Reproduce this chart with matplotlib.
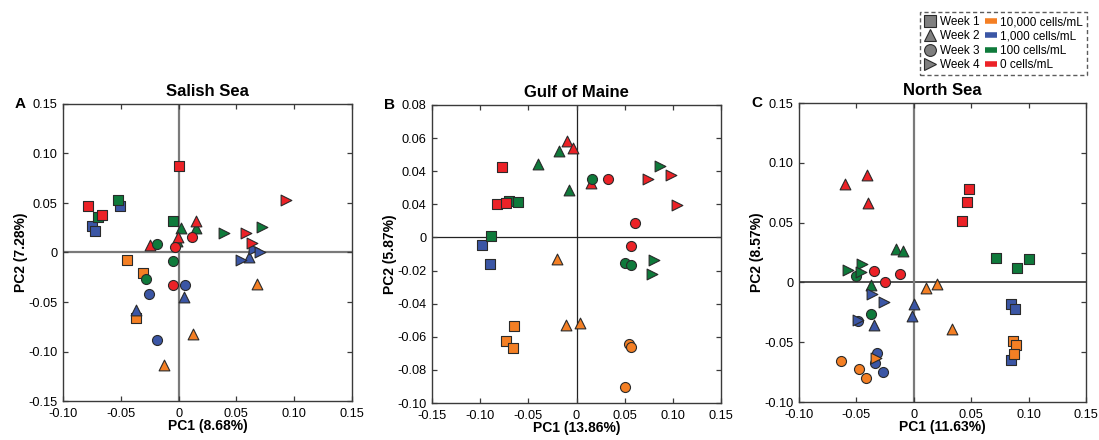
import matplotlib
matplotlib.use("Agg")
import matplotlib.pyplot as plt
from matplotlib.lines import Line2D

plt.rcParams['font.family'] = ['Liberation Sans', 'DejaVu Sans']

# ---- PCA scores: (PC1, PC2), sampling week and spike concentration ----
salish_x = [-0.045, -0.031, -0.0367, -0.0506, -0.075, -0.072, -0.052, -0.070, -0.0046,
            0.0, -0.0787, -0.0666,
            0.068, 0.0124, -0.0127, 0.061, 0.005, -0.037, 0.0017, 0.0148, -0.001,
            0.0153, -0.0006, -0.025,
            0.0052, -0.026, -0.0188, -0.019, -0.0052, -0.0286, 0.012, -0.0035, -0.0046,
            0.0538, 0.0655, 0.0705, 0.0718, 0.0394, 0.0929, 0.0579, 0.0631]
salish_y = [-0.0073, -0.021, -0.066, 0.047, 0.027, 0.022, 0.053, 0.036, 0.032,
            0.087, 0.047, 0.038,
            -0.032, -0.082, -0.114, -0.005, -0.045, -0.058, 0.025, 0.025, 0.012,
            0.032, 0.016, 0.0077,
            -0.0333, -0.0417, -0.0887, 0.0083, -0.009, -0.0267, 0.016, 0.0057, -0.0333,
            -0.008, 0.0033, 0.0003, 0.0257, 0.020, 0.053, 0.020, 0.010]
salish_week = [1] * 12 + [2] * 12 + [3] * 9 + [4] * 8
salish_conc = (['10,000'] * 3 + ['1,000'] * 3 + ['100'] * 3 + ['0'] * 3
               + ['10,000'] * 3 + ['1,000'] * 3 + ['100'] * 3 + ['0'] * 3
               + ['1,000'] * 3 + ['100'] * 3 + ['0'] * 3
               + ['1,000'] * 3 + ['100'] * 2 + ['0'] * 3)

maine_x = [-0.0653, -0.0729, -0.066, -0.0986, -0.0903, -0.070, -0.0608, -0.0892,
           -0.0771, -0.0823, -0.0733,
           -0.0201, -0.0104, 0.0038, -0.018, -0.0396, -0.0076, -0.0097, -0.0035, 0.0146,
           0.0549, 0.0566, 0.0507, 0.0163, 0.0507, 0.0563, 0.033, 0.0604, 0.0563,
           0.0868, 0.0809, 0.0781, 0.074, 0.0979, 0.1042]
maine_y = [-0.0533, -0.0626, -0.0667, -0.0043, -0.0158, 0.0219, 0.0213, 0.001,
           0.0424, 0.0199, 0.0211,
           -0.013, -0.0531, -0.0517, 0.0523, 0.0446, 0.0286, 0.0584, 0.0543, 0.033,
           -0.0642, -0.0659, -0.0906, 0.0355, -0.0152, -0.0168, 0.0351, 0.0085, -0.0051,
           0.0432, -0.0134, -0.0223, 0.0351, 0.0379, 0.0197]
maine_week = [1] * 11 + [2] * 9 + [3] * 9 + [4] * 6
maine_conc = (['10,000'] * 3 + ['1,000'] * 2 + ['100'] * 3 + ['0'] * 3
              + ['10,000'] * 3 + ['100'] * 3 + ['0'] * 3
              + ['10,000'] * 3 + ['100'] * 3 + ['0'] * 3
              + ['100'] * 3 + ['0'] * 3)

north_x = [0.0843, 0.0884, 0.0846, 0.0863, 0.089, 0.0875, 0.0718, 0.0898, 0.1006,
           0.048, 0.0462, 0.0419,
           0.0108, 0.0203, 0.0334, 0.0006, -0.0017, -0.0346, -0.0154, -0.0096, -0.0372,
           -0.0596, -0.041, -0.0395,
           -0.0637, -0.048, -0.0413, -0.0488, -0.0317, -0.0337, -0.0265, -0.050, -0.0375,
           -0.0343, -0.0247, -0.0119,
           -0.0331, -0.0366, -0.0256, -0.0488, -0.057, -0.0448, -0.046]
north_y = [-0.0177, -0.0223, -0.0648, -0.0493, -0.0527, -0.0597, 0.020, 0.0121, 0.0192,
           0.0777, 0.067, 0.0515,
           -0.0051, -0.0017, -0.0386, -0.0183, -0.0279, -0.0358, 0.0279, 0.0262, -0.0025,
           0.082, 0.090, 0.0668,
           -0.0654, -0.0724, -0.0797, -0.0321, -0.0589, -0.0676, -0.0746, 0.0056, -0.0268,
           0.0099, 0.0, 0.0068,
           -0.063, -0.0099, -0.0166, -0.0315, 0.0101, 0.0155, 0.0087]
north_week = [1] * 12 + [2] * 12 + [3] * 12 + [4] * 7
north_conc = (['1,000'] * 3 + ['10,000'] * 3 + ['100'] * 3 + ['0'] * 3
              + ['10,000'] * 3 + ['1,000'] * 3 + ['100'] * 3 + ['0'] * 3
              + ['10,000'] * 3 + ['1,000'] * 4 + ['100'] * 2 + ['0'] * 3
              + ['10,000'] * 1 + ['1,000'] * 3 + ['100'] * 3)

week_labels = ['Week 1', 'Week 2', 'Week 3', 'Week 4']
conc_levels = ['10,000', '1,000', '100', '0']
conc_labels = ['10,000 cells/mL', '1,000 cells/mL', '100 cells/mL', '0 cells/mL']

# ---- styling ----
week_markers = {1: 's', 2: '^', 3: 'o', 4: '>'}
conc_colors = {'10,000': '#f47f24', '1,000': '#3b56a5', '100': '#0f7a3b', '0': '#ec2227'}
edge = '#2a2a2a'
spine_col = '#3a3a3a'

W, H = 1099, 440
fig = plt.figure(figsize=(W / 100, H / 100), dpi=100)


def px_rect(l, t, r, b):
    return [l / W, 1 - b / H, (r - l) / W, (b - t) / H]


panels = [
    dict(title='Salish Sea', letter='A', rect=px_rect(63, 104, 352, 401),
         x=salish_x, y=salish_y, week=salish_week, conc=salish_conc,
         xlim=(-0.10, 0.15), ylim=(-0.15, 0.15),
         xticks=[-0.10, -0.05, 0, 0.05, 0.10, 0.15],
         xticklabels=['-0.10', '-0.05', '0', '0.05', '0.10', '0.15'],
         yticks=[-0.15, -0.10, -0.05, 0, 0.05, 0.10, 0.15],
         yticklabels=['-0.15', '-0.10', '-0.05', '0', '0.05', '0.10', '0.15'],
         xlabel='PC1 (8.68%)', ylabel='PC2 (7.28%)',
         hcol='#7a7a7a', hlw=1.6, vcol='#7a7a7a', vlw=1.6),
    dict(title='Gulf of Maine', letter='B', rect=px_rect(432, 105, 721, 403),
         x=maine_x, y=maine_y, week=maine_week, conc=maine_conc,
         xlim=(-0.15, 0.15), ylim=(-0.10, 0.08),
         xticks=[-0.15, -0.10, -0.05, 0, 0.05, 0.10, 0.15],
         xticklabels=['-0.15', '-0.10', '-0.05', '0', '0.05', '0.10', '0.15'],
         yticks=[-0.10, -0.08, -0.06, -0.04, -0.02, 0, 0.02, 0.04, 0.06, 0.08],
         yticklabels=['-0.10', '-0.08', '-0.06', '-0.04', '-0.02', '0', '0.04',
                      '0.04', '0.06', '0.08'],
         xlabel='PC1 (13.86%)', ylabel='PC2 (5.87%)',
         hcol='#222222', hlw=0.9, vcol='#222222', vlw=0.9),
    dict(title='North Sea', letter='C', rect=px_rect(799, 103, 1086, 402),
         x=north_x, y=north_y, week=north_week, conc=north_conc,
         xlim=(-0.10, 0.15), ylim=(-0.10, 0.15),
         xticks=[-0.10, -0.05, 0, 0.05, 0.10, 0.15],
         xticklabels=['-0.10', '-0.05', '0', '0.05', '0.10', '0.15'],
         yticks=[-0.10, -0.05, 0, 0.05, 0.10, 0.15],
         yticklabels=['-0.10', '-0.05', '0', '0.05', '0.10', '0.15'],
         xlabel='PC1 (11.63%)', ylabel='PC2 (8.57%)',
         hcol='#222222', hlw=1.1, vcol='#7a7a7a', vlw=1.6),
]

for p in panels:
    ax = fig.add_axes(p['rect'])
    ax.set_xlim(*p['xlim'])
    ax.set_ylim(*p['ylim'])
    ax.axhline(0, color=p['hcol'], lw=p['hlw'], zorder=1)
    ax.axvline(0, color=p['vcol'], lw=p['vlw'], zorder=1)

    for xi, yi, wk, cc in zip(p['x'], p['y'], p['week'], p['conc']):
        ms = 52 if wk in (1, 3) else 60
        ax.scatter([xi], [yi], marker=week_markers[wk], s=ms,
                   facecolor=conc_colors[cc], edgecolor=edge, linewidths=0.8,
                   zorder=3)

    ax.set_xticks(p['xticks'])
    ax.set_xticklabels(p['xticklabels'])
    ax.set_yticks(p['yticks'])
    ax.set_yticklabels(p['yticklabels'])
    ax.tick_params(direction='in', length=3.5, width=0.9, color=spine_col,
                   labelsize=9.2, top=True, right=True, pad=4)
    ax.tick_params(axis='x', pad=5)
    for s in ax.spines.values():
        s.set_color(spine_col)
        s.set_linewidth(1.0)
    ax.set_title(p['title'], fontsize=12, fontweight='bold', pad=6)
    ax.set_xlabel(p['xlabel'], fontsize=10, fontweight='bold', labelpad=-1)
    ax.set_ylabel(p['ylabel'], fontsize=10, fontweight='bold', labelpad=0)

    bb = p['rect']
    fig.text(bb[0] - 48 / W, bb[1] + bb[3], p['letter'], fontsize=11,
             fontweight='bold', ha='left', va='center')

    if p['letter'] == 'C':
        # right-hand frame ticks on an independent six-step scale
        ax.tick_params(right=False)
        ax2 = ax.twinx()
        ax2.set_ylim(0, 6)
        ax2.set_yticks([1, 2, 3, 4, 5])
        ax2.tick_params(direction='in', length=3.5, width=0.9, color=spine_col,
                        labelright=False)
        for s in ax2.spines.values():
            s.set_visible(False)

# ---- legend: marker shape = week, colour = concentration ----
handles = [Line2D([], [], marker=week_markers[i + 1], ls='none', markersize=8.5,
                  markerfacecolor='#7f7f7f', markeredgecolor=edge, markeredgewidth=0.8)
           for i in range(4)]
handles += [Line2D([0, 1], [0, 0], color=conc_colors[c], lw=4, solid_capstyle='butt')
            for c in conc_levels]
leg = fig.legend(handles, week_labels + conc_labels, ncol=2, loc='upper right',
                 bbox_to_anchor=(1087 / W, 1 - 12 / H), fontsize=8.5,
                 frameon=True, fancybox=False, handlelength=1.0, handletextpad=0.3,
                 columnspacing=0.45, labelspacing=0.2, borderpad=0.35,
                 borderaxespad=0)
frame = leg.get_frame()
frame.set_edgecolor('#333333')
frame.set_linestyle((0, (3, 2)))
frame.set_linewidth(1.0)

fig.savefig('out.png', dpi=100)
